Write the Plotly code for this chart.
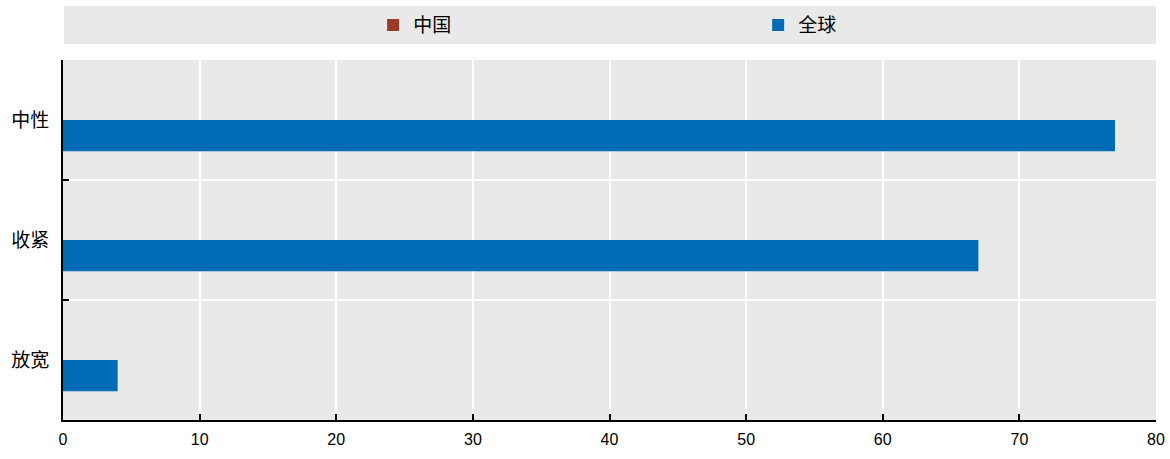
import plotly.graph_objects as go

categories = ["中性", "收紧", "放宽"]
series_names = ["中国", "全球"]
china_values = [None, None, None]
global_values = [77, 67, 4]
x_ticks = [0, 10, 20, 30, 40, 50, 60, 70, 80]

colors = ["#9B3A2A", "#006BB6"]
num_family = "Liberation Sans, Arial, sans-serif"
cjk_family = "Noto Sans CJK SC, sans-serif"

fig = go.Figure()
for name, vals, col in zip(series_names, [china_values, global_values], colors):
    fig.add_trace(go.Bar(
        y=categories, x=vals, name=name, orientation="h",
        marker=dict(color=col, line=dict(width=0)),
    ))

fig.update_layout(
    width=1170, height=459,
    margin=dict(l=63, r=14, t=60, b=39, autoexpand=False),
    paper_bgcolor="white",
    plot_bgcolor="#E9E9E9",
    barmode="group",
    bargap=0.48,
    bargroupgap=0,
    font=dict(family=num_family, size=15, color="black"),
    legend=dict(
        orientation="h", x=0.636, xanchor="center", y=1.097, yanchor="middle",
        bgcolor="rgba(0,0,0,0)", font=dict(family=cjk_family, size=19),
        entrywidth=340, entrywidthmode="pixels", traceorder="normal",
        itemclick=False, itemdoubleclick=False,
    ),
    shapes=[dict(
        type="rect", xref="paper", yref="paper",
        x0=0.001, x1=1.0, y0=1.0444, y1=1.15,
        fillcolor="#E9E9E9", line=dict(width=0), layer="below",
    )],
    xaxis=dict(
        range=[0, 80], tickvals=x_ticks, ticktext=[str(v) for v in x_ticks],
        showgrid=True, gridcolor="white", gridwidth=2,
        zeroline=False, showline=True, linecolor="black", linewidth=2,
        ticks="inside", ticklen=6, tickwidth=2, tickcolor="black",
        tickfont=dict(family=num_family, size=16),
        ticklabelstandoff=4,
        automargin=False, fixedrange=True,
    ),
    yaxis=dict(
        categoryorder="array", categoryarray=categories, autorange="reversed",
        tickson="boundaries",
        showgrid=True, gridcolor="white", gridwidth=2,
        zeroline=False, showline=True, linecolor="black", linewidth=2,
        ticks="inside", ticklen=6, tickwidth=2, tickcolor="black",
        tickfont=dict(family=cjk_family, size=19),
        ticklabelstandoff=8,
        automargin=False, fixedrange=True,
    ),
)

fig.write_html(
    "out.html",
    config={"displayModeBar": False},
    post_script="document.body.style.margin='0';document.body.style.overflow='hidden';",
)
